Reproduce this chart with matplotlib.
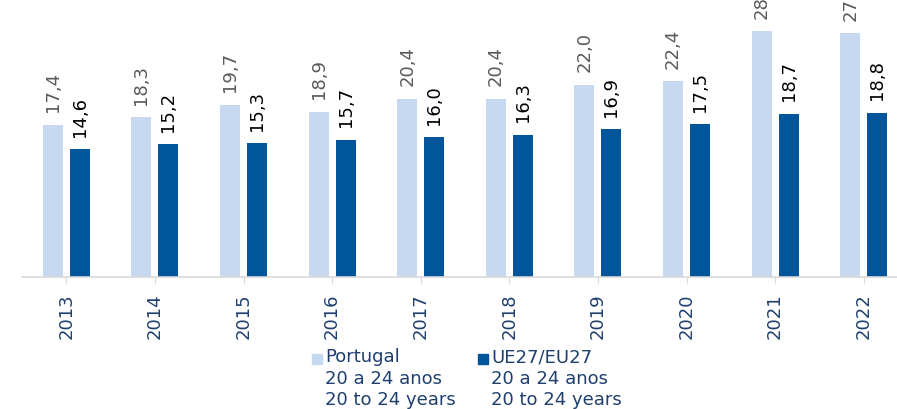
import matplotlib
matplotlib.use("Agg")
import matplotlib.pyplot as plt
import matplotlib.patches as patches
import numpy as np

# data
years = ["2013", "2014", "2015", "2016", "2017", "2018", "2019", "2020", "2021", "2022"]
portugal = [17.4, 18.3, 19.7, 18.9, 20.4, 20.4, 22.0, 22.4, 28.1, 27.9]
eu27 = [14.6, 15.2, 15.3, 15.7, 16.0, 16.3, 16.9, 17.5, 18.7, 18.8]
legend_labels = ["Portugal\n20 a 24 anos\n20 to 24 years",
                 "UE27/EU27\n20 a 24 anos\n20 to 24 years"]

LIGHT = "#C6D9F0"
DARK = "#00559B"
TEXT_BLUE = "#1F3F6E"

W, H = 897, 409
fig = plt.figure(figsize=(W / 100, H / 100), dpi=100)
ax = fig.add_axes([22 / W, 132 / H, 886 / W, 277 / H])

x = np.arange(len(years))
bw = 0.226
off = 0.152
b1 = ax.bar(x - off, portugal, bw, color=LIGHT)
b2 = ax.bar(x + off, eu27, bw, color=DARK)

for rect, v in zip(b1, portugal):
    ax.annotate(f"{v:.1f}".replace(".", ","),
                (rect.get_x() + rect.get_width() / 2, v),
                xytext=(0, 9), textcoords="offset points",
                rotation=90, ha="center", va="bottom",
                fontsize=13, color="#595959", annotation_clip=False)
for rect, v in zip(b2, eu27):
    ax.annotate(f"{v:.1f}".replace(".", ","),
                (rect.get_x() + rect.get_width() / 2, v),
                xytext=(0, 9), textcoords="offset points",
                rotation=90, ha="center", va="bottom",
                fontsize=13, color="black", annotation_clip=False)

ax.set_xlim(-0.5, len(years) - 0.5)
ax.set_ylim(0, 31.7)
ax.set_xticks(x)
ax.set_xticklabels(years, rotation=90, fontsize=13, color=TEXT_BLUE)
ax.tick_params(axis="x", length=4, color="#D9D9D9", pad=8)
ax.set_yticks([])
for side in ["top", "right", "left"]:
    ax.spines[side].set_visible(False)
ax.spines["bottom"].set_color("#D9D9D9")
ax.spines["bottom"].set_linewidth(1.2)

# legend: two colored squares with three-line labels
for px, col, lab in [(312, LIGHT, legend_labels[0]), (478, DARK, legend_labels[1])]:
    fig.patches.append(patches.Rectangle((px / W, (H - 364) / H), 10 / W, 10 / H,
                                         transform=fig.transFigure, color=col))
    fig.text((px + 13) / W, (H - 348) / H, lab, ha="left", va="top",
             fontsize=13, color=TEXT_BLUE, linespacing=1.25)

fig.savefig("out.png", dpi=100)
